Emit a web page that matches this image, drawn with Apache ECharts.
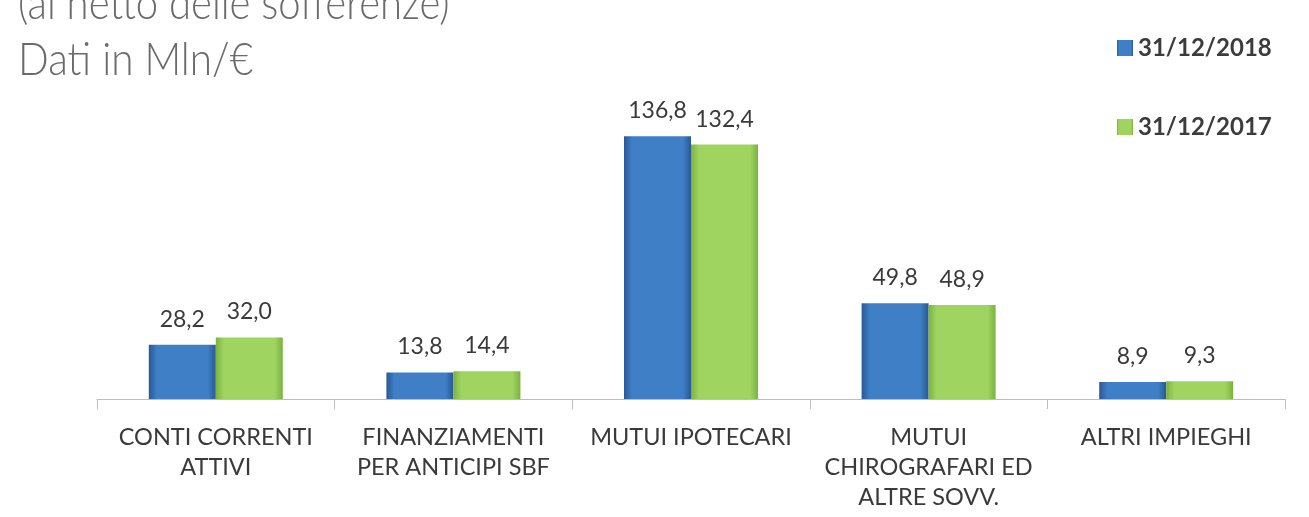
<!DOCTYPE html>
<html>
<head>
<meta charset="utf-8">
<script src="https://cdn.jsdelivr.net/npm/echarts@6/dist/echarts.min.js"></script>
<style>
html,body{margin:0;padding:0;background:#fff;}
#chart{width:1309px;height:517px;}
</style>
</head>
<body>
<div id="chart"></div>
<script>
var categories = ['CONTI CORRENTI\nATTIVI', 'FINANZIAMENTI\nPER ANTICIPI SBF', 'MUTUI IPOTECARI', 'MUTUI\nCHIROGRAFARI ED\nALTRE SOVV.', 'ALTRI IMPIEGHI'];
var seriesNames = ['31/12/2018', '31/12/2017'];
var values2018 = [28.2, 13.8, 136.8, 49.8, 8.9];
var values2017 = [32.0, 14.4, 132.4, 48.9, 9.3];
var titleLines = ['(al netto delle sofferenze)', 'Dati in Mln/€'];

var chart = echarts.init(document.getElementById('chart'));

function grad(edge, mid) {
  return new echarts.graphic.LinearGradient(0, 0, 1, 0, [
    {offset: 0, color: edge},
    {offset: 0.12, color: mid},
    {offset: 0.88, color: mid},
    {offset: 1, color: edge}
  ]);
}
var labelCfg = {
  show: true,
  position: 'top',
  distance: 14,
  color: '#3a3a3a',
  fontFamily: 'Lato, "Noto Sans", sans-serif',
  fontSize: 23,
  formatter: function (p) { return p.value.toFixed(1).replace('.', ','); }
};
var titleFont = 'Lato, "Noto Sans", sans-serif';

chart.setOption({
  animation: false,
  backgroundColor: '#ffffff',
  graphic: [
    {type: 'text', x: 18, y: -19, scaleX: 0.87, style: {text: titleLines[0], fontSize: 46, fontWeight: 300, fontFamily: titleFont, fill: '#6b6b6b', textAlign: 'left', textVerticalAlign: 'top'}},
    {type: 'text', x: 18, y: 37, scaleX: 0.88, style: {text: titleLines[1], fontSize: 46, fontWeight: 300, fontFamily: titleFont, fill: '#6b6b6b', textAlign: 'left', textVerticalAlign: 'top'}}
  ],
  legend: {
    orient: 'vertical',
    left: 1112,
    top: 31,
    itemWidth: 16,
    itemHeight: 16,
    itemGap: 55,
    icon: 'rect',
    textStyle: {fontSize: 24, fontWeight: 'bold', color: '#3c3c3c', fontFamily: 'Lato, "Noto Sans", sans-serif'},
    data: seriesNames
  },
  grid: {left: 97, right: 24, top: 130, bottom: 118},
  xAxis: {
    type: 'category',
    data: categories,
    axisLine: {lineStyle: {color: '#bdbdbd', width: 1}},
    axisTick: {show: true, length: 10, lineStyle: {color: '#bdbdbd'}},
    axisLabel: {
      interval: 0,
      margin: 23,
      color: '#3a3a3a',
      fontSize: 23.5,
      lineHeight: 30,
      fontFamily: 'Lato, "Noto Sans", sans-serif'
    }
  },
  yAxis: {
    type: 'value',
    min: 0,
    max: 140,
    show: false,
    splitLine: {show: false}
  },
  series: [
    {
      name: seriesNames[0],
      type: 'bar',
      data: values2018,
      barWidth: 67,
      barGap: '0%',
      itemStyle: {color: grad('#2a5892', '#3f7fc6')},
      label: labelCfg
    },
    {
      name: seriesNames[1],
      type: 'bar',
      data: values2017,
      barWidth: 67,
      barGap: '0%',
      itemStyle: {color: grad('#7bb23f', '#9fd461')},
      label: labelCfg
    }
  ]
});
</script>
</body>
</html>
